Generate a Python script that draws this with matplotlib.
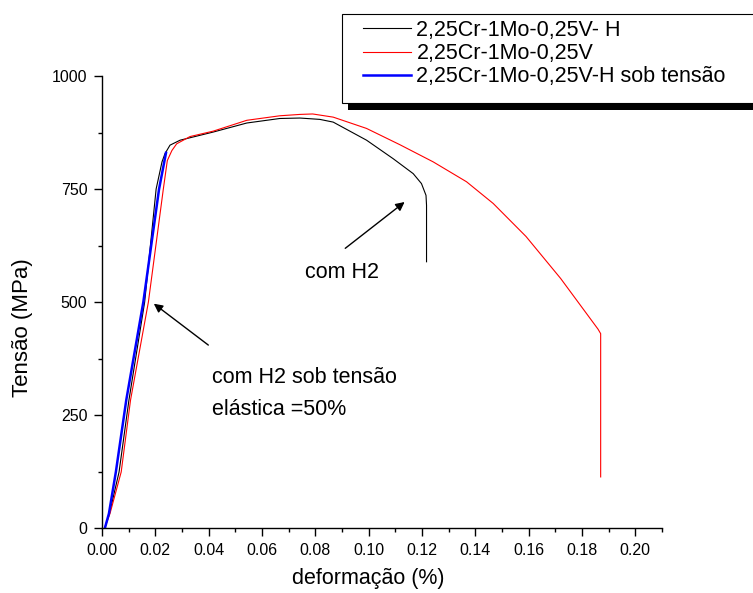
import matplotlib
matplotlib.use('agg')
import matplotlib.pyplot as plt
from matplotlib.patches import Rectangle
from matplotlib.ticker import MultipleLocator, FormatStrFormatter

plt.rcParams['font.family'] = ['Liberation Sans', 'DejaVu Sans']

labels = ['2,25Cr-1Mo-0,25V- H', '2,25Cr-1Mo-0,25V', '2,25Cr-1Mo-0,25V-H sob tensão']

# com H2 (preto)
h_x = [0.0010, 0.0028, 0.0064, 0.0101, 0.0160, 0.0203, 0.0225, 0.0236, 0.0255, 0.0293,
       0.0417, 0.0543, 0.0667, 0.0742, 0.0817, 0.0867, 0.0992, 0.1092, 0.1167, 0.1198,
       0.1215, 0.1217, 0.1217]
h_y = [0, 32, 124, 283, 500, 750, 810, 828, 847, 858,
       876, 896, 906, 907, 904, 898, 858, 817, 784, 762,
       736, 714, 589]

# sem H2 (vermelho)
ref_x = [0.0010, 0.0030, 0.0072, 0.0107, 0.0174, 0.0230, 0.0245, 0.0262, 0.0280, 0.0330,
         0.0417, 0.0543, 0.0667, 0.0742, 0.0790, 0.0867, 0.0992, 0.1117, 0.1242, 0.1367,
         0.1467, 0.1590, 0.1720, 0.1860, 0.1870, 0.1870]
ref_y = [0, 32, 124, 283, 500, 750, 813, 835, 850, 866,
         878, 902, 912, 915, 916, 909, 884, 848, 810, 766,
         718, 645, 552, 440, 430, 113]

# com H2 sob tensao (azul)
sob_x = [0.0011, 0.0026, 0.0052, 0.0091, 0.0155, 0.0214, 0.0240]
sob_y = [0, 32, 124, 283, 500, 750, 830]

W, H = 753, 593
fig = plt.figure(figsize=(W / 100, H / 100), dpi=100)
ax = fig.add_axes([102 / W, 1 - 528 / H, 560 / W, 452 / H])

l1, = ax.plot(h_x, h_y, color='black', lw=0.8)
l2, = ax.plot(ref_x, ref_y, color='red', lw=0.8)
l3, = ax.plot(sob_x, sob_y, color='blue', lw=1.8)

ax.set_xlim(0, 0.21)
ax.set_ylim(0, 1000)
ax.xaxis.set_major_locator(MultipleLocator(0.02))
ax.xaxis.set_minor_locator(MultipleLocator(0.01))
ax.xaxis.set_major_formatter(FormatStrFormatter('%.2f'))
ax.yaxis.set_major_locator(MultipleLocator(250))
ax.yaxis.set_minor_locator(MultipleLocator(125))
ax.tick_params(which='major', length=5.5, width=1, labelsize=11.5, pad=5)
ax.tick_params(which='minor', length=3, width=1)
for s in ['top', 'right']:
    ax.spines[s].set_visible(False)
for s in ['left', 'bottom']:
    ax.spines[s].set_linewidth(1)

ax.set_xlabel('deformação (%)', fontsize=15.5)
ax.set_ylabel('Tensão (MPa)', fontsize=16)
ax.xaxis.set_label_coords(0.1 / 0.21, -0.088)
ax.yaxis.set_label_coords(-0.123, 0.4425)

# anotacoes
ax.annotate('', xy=(0.1143, 725), xytext=(0.0904, 615),
            arrowprops=dict(arrowstyle='-|>', color='black', lw=1, mutation_scale=13))
ax.text(0.0761, 553, 'com H2', fontsize=15.5, va='baseline')
ax.annotate('', xy=(0.0186, 500), xytext=(0.0407, 401),
            arrowprops=dict(arrowstyle='-|>', color='black', lw=1, mutation_scale=13))
ax.text(0.0411, 320, 'com H2 sob tensão', fontsize=15.5, va='baseline')
ax.text(0.0411, 250, 'elástica =50%', fontsize=15.5, va='baseline')

# legenda com sombra
shadow = Rectangle((348 / W, 1 - 110 / H), 0.6, 89 / H, transform=fig.transFigure,
                   facecolor='black', edgecolor='none', zorder=3)
frame = Rectangle((342 / W, 1 - 103 / H), 0.6, 89 / H, transform=fig.transFigure,
                  facecolor='white', edgecolor='black', lw=0.8, zorder=4)
fig.add_artist(shadow)
fig.add_artist(frame)
leg = fig.legend([l1, l2, l3], labels, loc='upper left', bbox_to_anchor=(363 / W, 1 - 20 / H),
                 frameon=False, fontsize=15.5, borderpad=0, borderaxespad=0,
                 handlelength=2.23, handletextpad=0.25, labelspacing=0.1)
leg.set_zorder(5)

fig.savefig('out.png', dpi=100)
